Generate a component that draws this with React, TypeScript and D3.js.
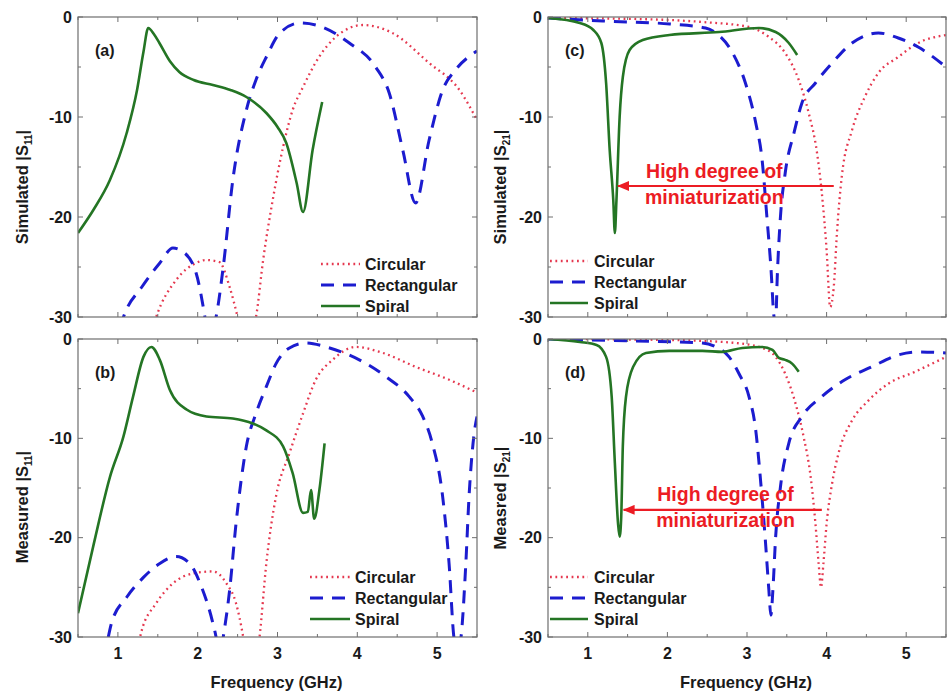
import React from "react";
import * as d3 from "d3";

type Pt = [number, number] | null;

const freqTicks = [1, 2, 3, 4, 5];
const freqMinorTicks = [0.5, 1.5, 2.5, 3.5, 4.5, 5.5];
const dbTicks = [0, -10, -20, -30];
const dbMinorTicks = [-5, -15, -25];
const seriesNames = ["Circular", "Rectangular", "Spiral"];

// (a) Simulated |S11|
const simS11Circular: Pt[] = [
  [1.44, -31], [1.48, -30], [1.73, -26.3], [1.98, -24.6], [2.1, -24.3], [2.27, -24.5], [2.4, -27], [2.5, -30], [2.53, -31], null,
  [2.7, -31], [2.73, -30], [2.82, -24.3], [2.94, -18.3], [3.07, -13], [3.19, -9.3], [3.32, -7], [3.52, -4], [3.73, -2],
  [4.07, -0.8], [4.44, -1.6], [4.9, -4.6], [5.28, -7.3], [5.5, -10.3],
];
const simS11Rectangular: Pt[] = [
  [1.03, -31], [1.07, -30], [1.3, -27], [1.525, -24.6], [1.69, -23.1], [1.82, -23.5], [1.98, -25.6], [2.09, -30], [2.11, -31], null,
  [2.2, -31], [2.23, -30], [2.32, -25], [2.44, -16.3], [2.61, -9.3], [2.73, -6.3], [2.86, -4.0], [3.03, -1.6], [3.28, -0.6],
  [3.48, -0.8], [3.9, -2.6], [4.23, -5], [4.4, -7.6], [4.57, -13.3], [4.73, -18.6], [4.9, -12.3], [5.07, -7.3],
  [5.23, -5.3], [5.5, -3.4],
];
const simS11Spiral: Pt[] = [
  [0.5, -21.6], [0.7, -19.2], [0.9, -16.3], [1.11, -11.6], [1.24, -7.3], [1.32, -3.5], [1.38, -1.1], [1.45, -1.7],
  [1.52, -2.6], [1.65, -4.4], [1.77, -5.5], [1.95, -6.3], [2.19, -6.8], [2.41, -7.3], [2.61, -8.0], [2.86, -9.6],
  [3.0, -11], [3.11, -12.6], [3.24, -16.6], [3.32, -19.5], [3.44, -13.3], [3.56, -8.5],
];

// (b) Measured |S11|
const measS11Circular: Pt[] = [
  [1.26, -31], [1.29, -29.6], [1.48, -26.6], [1.69, -24.6], [1.94, -23.6], [2.19, -23.4], [2.36, -24.6], [2.48, -26.6], [2.57, -30], [2.59, -31], null,
  [2.76, -31], [2.775, -30], [2.86, -22.6], [2.98, -15.9], [3.15, -11.5], [3.32, -7.5], [3.48, -4.1], [3.69, -2.1],
  [3.98, -0.8], [4.32, -1.4], [4.73, -2.8], [5.15, -4.1], [5.5, -5.4],
];
const measS11Rectangular: Pt[] = [
  [0.88, -30], [0.92, -28.6], [1.11, -26], [1.32, -24], [1.525, -22.6], [1.73, -21.9], [1.9, -22.6], [2.03, -24.6], [2.19, -28.6], [2.23, -30], [2.25, -31], null,
  [2.3, -31], [2.32, -30], [2.4, -25.3], [2.48, -18.6], [2.61, -10.8], [2.73, -7.5], [2.86, -4.8], [2.98, -2.5],
  [3.15, -0.9], [3.36, -0.4], [3.61, -0.8], [4.025, -2.1], [4.36, -3.8], [4.65, -5.8], [4.82, -7.8], [4.94, -10.5],
  [5.07, -15.9], [5.15, -22.6], [5.21, -30], [5.23, -31], null,
  [5.28, -31], [5.3, -30], [5.36, -22.6], [5.4, -15.9], [5.46, -9.8], [5.5, -7.8],
];
const measS11Spiral: Pt[] = [
  [0.5, -27.6], [0.69, -20.9], [0.9, -13.9], [1.07, -9.8], [1.19, -5.8], [1.32, -1.8], [1.42, -0.8], [1.525, -2.1],
  [1.65, -5.1], [1.86, -7.1], [2.11, -7.8], [2.44, -8.0], [2.69, -8.5], [2.86, -9.2], [3.07, -10.8], [3.19, -13.5],
  [3.32, -17.5], [3.38, -17.4], [3.42, -15.2], [3.46, -18.1], [3.525, -15.2], [3.59, -10.5],
];

// (c) Simulated |S21|
const simS21Circular: Pt[] = [
  [0.5, -0.1], [1.61, -0.2], [2.44, -0.5], [3.025, -1], [3.275, -2], [3.48, -3.6], [3.65, -6.3], [3.775, -9.6],
  [3.88, -13.6], [3.94, -17.6], [4.0, -23.3], [4.045, -29], [4.09, -27], [4.13, -21.6], [4.19, -16], [4.32, -11.3],
  [4.48, -8], [4.65, -5.6], [4.9, -4], [5.15, -2.6], [5.5, -1.8],
];
const simS21Rectangular: Pt[] = [
  [0.5, -0.1], [1.19, -0.4], [2.03, -0.7], [2.48, -1.1], [2.61, -1.6], [2.82, -3.6], [2.98, -6.6], [3.11, -10.6],
  [3.19, -14.3], [3.25, -20], [3.3, -25], [3.34, -30], [3.36, -30.5], [3.38, -26], [3.42, -20], [3.48, -15.6],
  [3.59, -11.6], [3.69, -8.6], [3.86, -6.6], [4.07, -4.6], [4.32, -2.6], [4.65, -1.6], [4.9, -2.1], [5.15, -3], [5.5, -5],
];
const simS21Spiral: Pt[] = [
  [0.5, -0.1], [0.9, -0.6], [1.07, -1.3], [1.17, -2.6], [1.23, -6.6], [1.275, -13.3], [1.32, -18.3], [1.34, -21.6],
  [1.36, -18.3], [1.4, -10], [1.44, -6], [1.525, -3.3], [1.69, -2.3], [2.025, -1.8], [2.65, -1.5], [3.15, -1.1],
  [3.36, -1.5], [3.525, -2.6], [3.63, -3.8],
];

// (d) Measured |S21|
const measS21Circular: Pt[] = [
  [0.5, 0], [2.03, -0.1], [2.86, -0.4], [3.19, -0.9], [3.36, -1.8], [3.48, -3.5], [3.61, -6.5], [3.71, -9.8],
  [3.8, -13.9], [3.86, -18.6], [3.9, -22.6], [3.93, -25], [3.96, -22.6], [4.0, -18.6], [4.07, -14.5], [4.15, -11.5],
  [4.32, -8.2], [4.525, -6.2], [4.775, -4.5], [5.11, -3.3], [5.5, -1.8],
];
const measS21Rectangular: Pt[] = [
  [0.5, 0], [1.61, -0.2], [2.44, -0.4], [2.61, -0.8], [2.775, -1.8], [2.9, -3.5], [3.025, -5.8], [3.11, -9.2],
  [3.17, -14.2], [3.23, -20.2], [3.275, -25.3], [3.3, -27.8], [3.325, -25.3], [3.36, -19.9], [3.42, -14.9],
  [3.525, -10.5], [3.69, -7.8], [3.94, -5.8], [4.23, -4.1], [4.57, -2.8], [4.9, -1.6], [5.15, -1.3], [5.5, -1.4],
];
const measS21Spiral: Pt[] = [
  [0.5, 0], [0.9, -0.3], [1.11, -0.6], [1.23, -1.8], [1.3, -5.8], [1.34, -12.5], [1.38, -18.6], [1.4, -19.9],
  [1.42, -17.9], [1.44, -10.8], [1.48, -5.8], [1.57, -2.8], [1.73, -1.4], [2.025, -1.2], [2.44, -1.2], [2.69, -1.3],
  [2.94, -0.9], [3.19, -0.8], [3.32, -1.1], [3.4, -1.9], [3.48, -2.1], [3.57, -2.5], [3.65, -3.3],
];

const annotationLines = ["High degree of", "miniaturization"];

const COLORS = { Circular: "#e5384f", Rectangular: "#1c1ccf", Spiral: "#247524" };
const TEXT = "#1a1a1a";
const FONT = "'Liberation Sans', Arial, sans-serif";

interface PanelCfg {
  id: string;
  label: string;
  ylabel: string;
  ysub: string;
  left: number; right: number; top: number; bottom: number;
  series: Pt[][];
  xLabels: boolean;
  legend: { lineX0: number; lineX1: number; textX: number; y0: number };
  arrow?: { x0: number; x1: number; y: number; textX: number; textY0: number; textY1: number };
  ylabelX: number;
  ylabelShift: number;
}

const panels: PanelCfg[] = [
  {
    id: "a", label: "(a)", ylabel: "Simulated |S", ysub: "11",
    left: 78, right: 477, top: 17, bottom: 317,
    series: [simS11Circular, simS11Rectangular, simS11Spiral], xLabels: false,
    legend: { lineX0: 321, lineX1: 360, textX: 365, y0: 264 },
    ylabelX: 28, ylabelShift: 20,
  },
  {
    id: "b", label: "(b)", ylabel: "Measured |S", ysub: "11",
    left: 78, right: 477, top: 339, bottom: 637,
    series: [measS11Circular, measS11Rectangular, measS11Spiral], xLabels: true,
    legend: { lineX0: 310, lineX1: 350, textX: 355, y0: 577 },
    ylabelX: 28, ylabelShift: 19,
  },
  {
    id: "c", label: "(c)", ylabel: "Simulated |S", ysub: "21",
    left: 548, right: 946, top: 17, bottom: 317,
    series: [simS21Circular, simS21Rectangular, simS21Spiral], xLabels: false,
    legend: { lineX0: 550, lineX1: 588, textX: 594, y0: 261 },
    arrow: { x0: 4.09, x1: 1.38, y: -16.9, textX: 2.59, textY0: -16.1, textY1: -18.7 },
    ylabelX: 506, ylabelShift: 20,
  },
  {
    id: "d", label: "(d)", ylabel: "Measred |S", ysub: "21",
    left: 548, right: 946, top: 339, bottom: 637,
    series: [measS21Circular, measS21Rectangular, measS21Spiral], xLabels: true,
    legend: { lineX0: 550, lineX1: 588, textX: 594, y0: 577 },
    arrow: { x0: 3.94, x1: 1.45, y: -17.2, textX: 2.73, textY0: -16.3, textY1: -18.9 },
    ylabelX: 506, ylabelShift: 10,
  },
];

const styleFor = (name: string) => {
  if (name === "Circular") return { stroke: COLORS.Circular, strokeWidth: 2.3, strokeDasharray: "1.8 3.6" };
  if (name === "Rectangular") return { stroke: COLORS.Rectangular, strokeWidth: 3, strokeDasharray: "13 9" };
  return { stroke: COLORS.Spiral, strokeWidth: 2.6, strokeDasharray: undefined };
};

function Panel({ p }: { p: PanelCfg }) {
  const x = d3.scaleLinear().domain([0.5, 5.5]).range([p.left, p.right]);
  const y = d3.scaleLinear().domain([-30, 0]).range([p.bottom, p.top]);
  const line = d3
    .line<Pt>()
    .defined((d) => d !== null)
    .x((d) => x((d as [number, number])[0]))
    .y((d) => y((d as [number, number])[1]))
    .curve(d3.curveMonotoneX);
  const clipId = `clip-${p.id}`;
  const tickLen = 5;
  const minorLen = 3;
  const frame = "#6e6e6e";
  return (
    <g>
      <defs>
        <clipPath id={clipId}>
          <rect x={p.left} y={p.top} width={p.right - p.left} height={p.bottom - p.top} />
        </clipPath>
        <marker id={`arrow-${p.id}`} viewBox="0 0 12 10" refX="11" refY="5" markerWidth="12" markerHeight="10" markerUnits="userSpaceOnUse" orient="auto">
          <path d="M0,0 L12,5 L0,10 z" fill="#ec1c24" />
        </marker>
      </defs>
      <g clipPath={`url(#${clipId})`}>
        {p.series.map((s, i) => {
          const st = styleFor(seriesNames[i]);
          return (
            <path key={i} d={line(s) || ""} fill="none" stroke={st.stroke} strokeWidth={st.strokeWidth}
              strokeDasharray={st.strokeDasharray} strokeLinejoin="round" />
          );
        })}
      </g>
      <rect x={p.left} y={p.top} width={p.right - p.left} height={p.bottom - p.top} fill="none" stroke={frame} strokeWidth={1.2} />
      {freqTicks.map((t) => (
        <g key={`xt${t}`} stroke={frame} strokeWidth={1}>
          <line x1={x(t)} x2={x(t)} y1={p.bottom} y2={p.bottom - tickLen} />
          <line x1={x(t)} x2={x(t)} y1={p.top} y2={p.top + tickLen} />
        </g>
      ))}
      {freqMinorTicks.map((t) => (
        <g key={`xm${t}`} stroke={frame} strokeWidth={1}>
          <line x1={x(t)} x2={x(t)} y1={p.bottom} y2={p.bottom - minorLen} />
          <line x1={x(t)} x2={x(t)} y1={p.top} y2={p.top + minorLen} />
        </g>
      ))}
      {dbTicks.map((t) => (
        <g key={`yt${t}`} stroke={frame} strokeWidth={1}>
          <line x1={p.left} x2={p.left + tickLen} y1={y(t)} y2={y(t)} />
          <line x1={p.right} x2={p.right - tickLen} y1={y(t)} y2={y(t)} />
        </g>
      ))}
      {dbMinorTicks.map((t) => (
        <g key={`ym${t}`} stroke={frame} strokeWidth={1}>
          <line x1={p.left} x2={p.left + minorLen} y1={y(t)} y2={y(t)} />
          <line x1={p.right} x2={p.right - minorLen} y1={y(t)} y2={y(t)} />
        </g>
      ))}
      {dbTicks.map((t) => (
        <text key={`yl${t}`} x={p.left - 6} y={y(t)} dy="0.36em" textAnchor="end" fontSize={16} fontWeight="bold" fill={TEXT}>
          {t}
        </text>
      ))}
      {p.xLabels &&
        freqTicks.map((t) => (
          <text key={`xl${t}`} x={x(t)} y={p.bottom + 22} textAnchor="middle" fontSize={16} fontWeight="bold" fill={TEXT}>
            {t}
          </text>
        ))}
      {p.xLabels && (
        <text x={(p.left + p.right) / 2 - 1} y={p.bottom + 51} textAnchor="middle" fontSize={16.5} fontWeight="bold" fill={TEXT}>
          Frequency (GHz)
        </text>
      )}
      <text
        transform={`translate(${p.ylabelX},${(p.top + p.bottom) / 2 + p.ylabelShift}) rotate(-90)`}
        textAnchor="middle" fontSize={16.5} fontWeight="bold" fill={TEXT}
      >
        {p.ylabel}
        <tspan fontSize={10} dy={4}>{p.ysub}</tspan>
        <tspan dy={-4}>|</tspan>
      </text>
      <text x={p.left + 17} y={p.top + 39} fontSize={16} fontWeight="bold" fill={TEXT}>
        {p.label}
      </text>
      {seriesNames.map((n, i) => {
        const st = styleFor(n);
        const yy = p.legend.y0 + i * 21;
        return (
          <g key={n}>
            <line x1={p.legend.lineX0} x2={p.legend.lineX1} y1={yy} y2={yy} stroke={st.stroke}
              strokeWidth={st.strokeWidth} strokeDasharray={st.strokeDasharray} />
            <text x={p.legend.textX} y={yy} dy="0.36em" fontSize={16} fontWeight="bold" fill={TEXT}>
              {n}
            </text>
          </g>
        );
      })}
      {p.arrow && (
        <g>
          <line x1={x(p.arrow.x0)} x2={x(p.arrow.x1)} y1={y(p.arrow.y)} y2={y(p.arrow.y)} stroke="#ec1c24" strokeWidth={2.2}
            markerEnd={`url(#arrow-${p.id})`} />
          <text x={x(p.arrow.textX)} y={y(p.arrow.textY0)} textAnchor="middle" fontSize={19.5} fontWeight="bold" fill="#ec1c24">
            {annotationLines[0]}
          </text>
          <text x={x(p.arrow.textX)} y={y(p.arrow.textY1)} textAnchor="middle" fontSize={19.5} fontWeight="bold" fill="#ec1c24">
            {annotationLines[1]}
          </text>
        </g>
      )}
    </g>
  );
}

export default function App() {
  return (
    <svg width={951} height={698} viewBox="0 0 951 698" style={{ position: "absolute", left: 0, top: 0, background: "#fff" }}
      fontFamily={FONT}>
      <rect x={0} y={0} width={951} height={698} fill="#fff" />
      {panels.map((p) => (
        <Panel key={p.id} p={p} />
      ))}
    </svg>
  );
}
